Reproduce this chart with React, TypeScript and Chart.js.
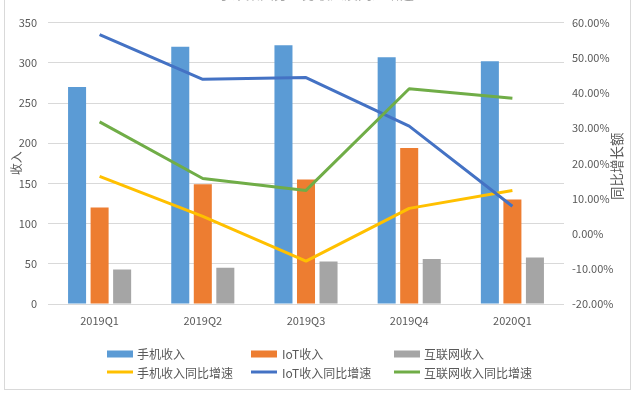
import React, { useEffect, useRef } from "react";
import { Chart, registerables } from "chart.js";

Chart.register(...registerables);

const categories = ["2019Q1", "2019Q2", "2019Q3", "2019Q4", "2020Q1"];
const phoneRevenue = [270, 320, 322, 307, 302];
const iotRevenue = [120, 149, 155, 194, 130];
const internetRevenue = [43, 45, 53, 56, 58];
const phoneGrowth = [16.3, 4.9, -7.8, 7.2, 12.3];
const iotGrowth = [56.6, 43.9, 44.4, 30.6, 7.8];
const internetGrowth = [31.8, 15.7, 12.3, 41.2, 38.5];

const seriesLabels = ["手机收入", "IoT收入", "互联网收入", "手机收入同比增速", "IoT收入同比增速", "互联网收入同比增速"];
const titleText = "小米集团分业务收入及同比增速";
const leftAxisTitle = "收入";
const rightAxisTitle = "同比增长额";

const FONT = '"Noto Sans CJK SC", "Noto Sans", sans-serif';
const TEXT = "#595959";
const GRID = "#d9d9d9";

const W = 633;
const H = 393;
const PLOT_LEFT = 48;
const PLOT_RIGHT = 564;
const PLOT_TOP = 22.7;
const PLOT_BOTTOM = 304;

const overlayPlugin = {
  id: "overlay",
  afterDraw(chart: any) {
    const ctx = chart.ctx as CanvasRenderingContext2D;
    const area = chart.chartArea;
    ctx.save();
    // outer frame
    ctx.strokeStyle = GRID;
    ctx.lineWidth = 1;
    ctx.strokeRect(4.5, -10, 626, 399.5);

    // title, almost entirely clipped above the frame
    ctx.fillStyle = "#a6a6a6";
    ctx.font = `14px ${FONT}`;
    ctx.textAlign = "center";
    ctx.textBaseline = "ideographic";
    ctx.fillText(titleText, 316, 1);

    // axis titles
    const midY = (area.top + area.bottom) / 2;
    ctx.fillStyle = TEXT;
    ctx.font = `12px ${FONT}`;
    ctx.textBaseline = "middle";
    ctx.textAlign = "center";
    ctx.save();
    ctx.translate(16.5, midY);
    ctx.rotate(-Math.PI / 2);
    ctx.fillText(leftAxisTitle, 0, 0);
    ctx.restore();
    ctx.save();
    ctx.translate(617, midY + 3);
    ctx.rotate(-Math.PI / 2);
    ctx.font = `13.5px ${FONT}`;
    ctx.fillText(rightAxisTitle, 0, 0);
    ctx.restore();

    // legend
    const colX = [107, 251, 394];
    const textX = [137, 282, 424];
    const rowY = [354, 373];
    ctx.font = `12px ${FONT}`;
    ctx.textAlign = "left";
    ctx.textBaseline = "middle";
    const ds = chart.data.datasets;
    for (let i = 0; i < ds.length; i++) {
      const d = ds[i];
      const row = d.type === "line" ? 1 : 0;
      const col = i % 3;
      const x = colX[col];
      const y = rowY[row];
      if (row === 0) {
        ctx.fillStyle = d.backgroundColor;
        ctx.fillRect(x, y - 3.5, 26, 7);
      } else {
        ctx.strokeStyle = d.borderColor;
        ctx.lineWidth = 3;
        ctx.beginPath();
        ctx.moveTo(x, y - 1);
        ctx.lineTo(x + 26, y - 1);
        ctx.stroke();
      }
      ctx.fillStyle = TEXT;
      ctx.fillText(d.label, textX[col], y);
    }
    ctx.restore();
  },
};

export default function App() {
  const ref = useRef<HTMLCanvasElement | null>(null);

  useEffect(() => {
    document.body.style.margin = "0";
    const canvas = ref.current;
    if (!canvas) return;
    const barBase = { type: "bar" as const, yAxisID: "y", order: 10, categoryPercentage: 0.655, barPercentage: 0.8 };
    const lineBase = {
      type: "line" as const,
      yAxisID: "y1",
      borderWidth: 3,
      pointRadius: 0,
      pointHoverRadius: 0,
      tension: 0,
      fill: false,
      borderJoinStyle: "round" as const,
    };
    const chart = new Chart(canvas, {
      type: "bar",
      data: {
        labels: categories,
        datasets: [
          { ...barBase, label: seriesLabels[0], data: phoneRevenue, backgroundColor: "#5B9BD5" },
          { ...barBase, label: seriesLabels[1], data: iotRevenue, backgroundColor: "#ED7D31" },
          { ...barBase, label: seriesLabels[2], data: internetRevenue, backgroundColor: "#A5A5A5" },
          { ...lineBase, label: seriesLabels[3], data: phoneGrowth, borderColor: "#FFC000", backgroundColor: "#FFC000", order: 3 },
          { ...lineBase, label: seriesLabels[4], data: iotGrowth, borderColor: "#4472C4", backgroundColor: "#4472C4", order: 2 },
          { ...lineBase, label: seriesLabels[5], data: internetGrowth, borderColor: "#70AD47", backgroundColor: "#70AD47", order: 1 },
        ] as any,
      },
      options: {
        responsive: false,
        animation: false,
        layout: { padding: { top: PLOT_TOP, left: 0, right: 0, bottom: 0 } },
        plugins: {
          legend: { display: false },
          title: { display: false },
          tooltip: { enabled: false },
        },
        scales: {
          x: {
            offset: true,
            grid: { display: false, drawTicks: false },
            border: { display: false },
            ticks: { color: TEXT, font: { family: FONT, size: 11 }, padding: 10, maxRotation: 0 },
            afterFit(scale: any) {
              scale.height = H - PLOT_BOTTOM;
            },
          },
          y: {
            position: "left",
            min: 0,
            max: 350,
            ticks: { stepSize: 50, color: TEXT, font: { family: FONT, size: 11 }, padding: 11 },
            grid: { color: GRID, lineWidth: 1, drawTicks: false },
            border: { display: false },
            afterFit(scale: any) {
              scale.width = PLOT_LEFT;
            },
          },
          y1: {
            position: "right",
            min: -20,
            max: 60,
            ticks: {
              stepSize: 10,
              color: TEXT,
              font: { family: FONT, size: 11 },
              padding: 8,
              callback: (v: any) => Number(v).toFixed(2) + "%",
            },
            grid: { display: false, drawTicks: false },
            border: { display: false },
            afterFit(scale: any) {
              scale.width = W - PLOT_RIGHT;
            },
          },
        },
      } as any,
      plugins: [overlayPlugin],
    });
    return () => chart.destroy();
  }, []);

  return (
    <div style={{ position: "absolute", left: 0, top: 0, width: W, height: H, background: "#fff" }}>
      <canvas ref={ref} width={W} height={H} style={{ width: W, height: H, display: "block" }} />
    </div>
  );
}
